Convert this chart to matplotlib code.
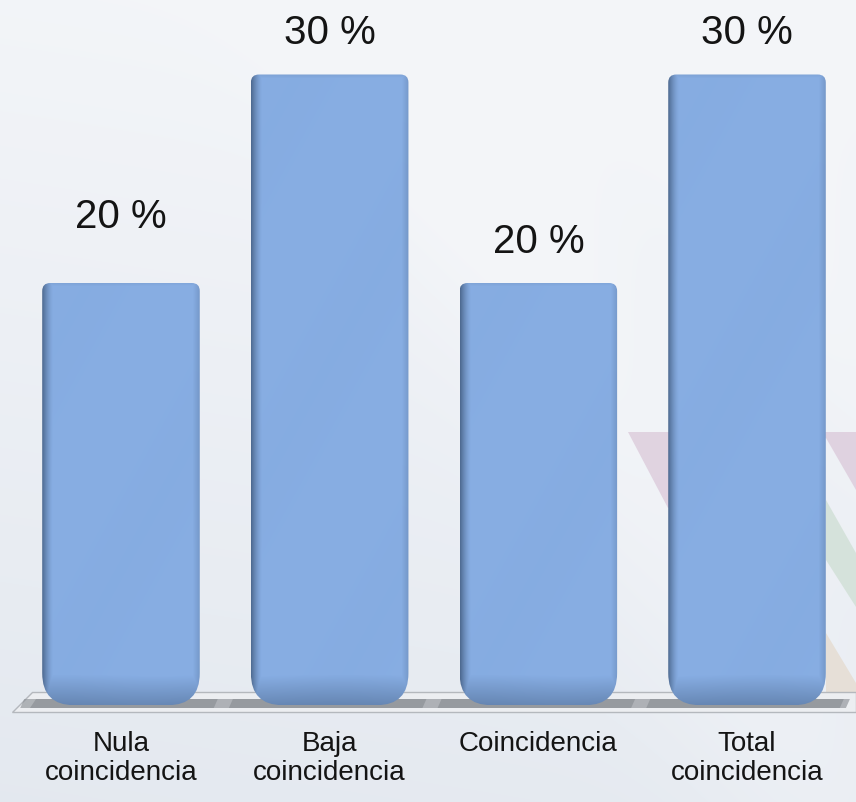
import numpy as np
import matplotlib
matplotlib.use("Agg")
import matplotlib.pyplot as plt
from matplotlib.path import Path
from matplotlib.patches import PathPatch, Polygon

categories = ["Nula\ncoincidencia", "Baja\ncoincidencia", "Coincidencia", "Total\ncoincidencia"]
values = [20, 30, 20, 30]
value_labels = ["20 %", "30 %", "20 %", "30 %"]

W, H = 856, 802
fig = plt.figure(figsize=(W / 100, H / 100), dpi=100)

# background: light gradient with soft diagonal streaks (pixel coords, y down)
bg = fig.add_axes([0, 0, 1, 1], zorder=0)
yy, xx = np.mgrid[0:H, 0:W].astype(float)
light = np.array([0.955, 0.962, 0.975])
grey = np.array([0.890, 0.910, 0.938])
t = np.clip(yy / H * 0.9 + (1 - xx / W) * 0.15 - 0.1, 0, 1)
d = (xx - yy * 0.55)
streak = 0.5 * np.exp(-((d - 380) / 120) ** 2) + 0.35 * np.exp(-((d - 650) / 90) ** 2)
t = np.clip(t - streak * 0.6, 0, 1)
img = light[None, None, :] * (1 - t[..., None]) + grey[None, None, :] * t[..., None]
bg.imshow(img, extent=(0, W, H, 0), aspect="auto")
# faint coloured ribbons behind the right bars
bg.add_patch(Polygon([(628, 432), (856, 432), (856, 490), (826, 438), (668, 508)],
                     closed=True, color="#dccbdb", alpha=0.8, lw=0))
bg.add_patch(Polygon([(826, 500), (856, 553), (856, 607), (826, 560)],
                     closed=True, color="#d3e1d9", alpha=0.9, lw=0))
bg.add_patch(Polygon([(826, 633), (856, 683), (856, 700), (826, 700)],
                     closed=True, color="#e6ded4", alpha=0.9, lw=0))
bg.set_xlim(0, W)
bg.set_ylim(H, 0)
bg.axis("off")

ax = fig.add_axes([0, 0, 1, 1], zorder=1)
ax.patch.set_alpha(0)
x = np.arange(len(categories))
px_x = 208.7
px_y = 20.85
ax.set_xlim(-121 / px_x, 3 + (W - 747) / px_x)
ax.set_ylim(-(H - 700) / px_y, 700 / px_y)
ax.axis("off")

bars = ax.bar(x, values, width=0.755, alpha=0)


def py(p):
    # pixel row -> data y
    return (700 - p) / px_y


def pxx(p):
    return ax.get_xlim()[0] + p / px_x


# floor plate
ax.add_patch(Polygon([(pxx(32), py(692)), (pxx(856), py(692)), (pxx(856), py(712)), (pxx(12), py(712))],
                     closed=True, facecolor="#eceef1", edgecolor="#b4b8bd", lw=1, zorder=2))
ax.add_patch(Polygon([(pxx(36), py(699)), (pxx(850), py(699)), (pxx(846), py(708)), (pxx(30), py(708))],
                     closed=True, facecolor="#a3a7ac", edgecolor="none", alpha=0.85, zorder=2))
# bar shadows on the floor
for b in bars:
    sx0 = b.get_x() - 18 / px_x
    sx1 = b.get_x() + b.get_width() + 18 / px_x
    ax.add_patch(Polygon([(sx0, py(699)), (sx1, py(699)), (sx1 - 4 / px_x, py(708)), (sx0 - 4 / px_x, py(708))],
                         closed=True, facecolor="#868b90", edgecolor="none", alpha=0.6, zorder=2))


def bar_path(x0, x1, y0, y1, rb, rt):
    rbx, rby = rb / px_x, rb / px_y
    rtx, rty = rt / px_x, rt / px_y
    verts = [(x0 + rbx, y0), (x1 - rbx, y0), (x1, y0), (x1, y0 + rby),
             (x1, y1 - rty), (x1, y1), (x1 - rtx, y1),
             (x0 + rtx, y1), (x0, y1), (x0, y1 - rty),
             (x0, y0 + rby), (x0, y0), (x0 + rbx, y0), (x0 + rbx, y0)]
    codes = [Path.MOVETO, Path.LINETO, Path.CURVE3, Path.CURVE3,
             Path.LINETO, Path.CURVE3, Path.CURVE3,
             Path.LINETO, Path.CURVE3, Path.CURVE3,
             Path.LINETO, Path.CURVE3, Path.CURVE3, Path.CLOSEPOLY]
    return Path(verts, codes)


main = np.array([0.53, 0.68, 0.89])
dark = np.array([0.30, 0.41, 0.56])
for b in bars:
    x0, y0 = b.get_x(), b.get_y() - 0.25
    x1, y1 = x0 + b.get_width(), b.get_height()
    path = bar_path(x0, x1, y0, y1, 32, 8)
    wpx = int(b.get_width() * px_x)
    hpx = int((y1 - y0) * px_y)
    u = np.arange(wpx)[None, :].astype(float)
    v = np.arange(hpx)[:, None].astype(float)
    t = np.zeros((hpx, wpx))
    t = np.maximum(t, np.clip(1 - u / 11.0, 0, 1) ** 1.5 * 0.95)
    t = np.maximum(t, np.clip(1 - (wpx - 1 - u) / 7.0, 0, 1) * 0.3)
    t = np.maximum(t, np.clip(1 - (hpx - 1 - v) / 30.0, 0, 1) * 0.55)
    t = np.maximum(t, np.clip(1 - v / 4.0, 0, 1) * 0.15)
    # faint diagonal sheen
    t = np.clip(t + 0.02 * np.sin((u + v * 0.55) / 30.0), 0, 1)
    rgb = main[None, None, :] * (1 - t[..., None]) + dark[None, None, :] * t[..., None]
    im = ax.imshow(rgb, extent=(x0, x1, y0, y1), aspect="auto", origin="upper", zorder=3)
    pp = PathPatch(path, facecolor="none", edgecolor="none", zorder=3)
    ax.add_patch(pp)
    im.set_clip_path(pp)

offsets = [3.15, 2.0, 1.95, 2.0]
for xi, v, lab, off in zip(x, values, value_labels, offsets):
    ax.text(xi, v + off, lab, ha="center", va="center", fontsize=29,
            family=["Liberation Sans Narrow", "Liberation Sans", "DejaVu Sans"],
            color="#141414", zorder=4)

for xi, c in zip(x, categories):
    ax.text(xi, py(731), c, ha="center", va="top", fontsize=20, linespacing=1.15,
            family=["Liberation Sans Narrow", "Liberation Sans", "DejaVu Sans"],
            color="#141414", zorder=4)

fig.savefig("out.png", dpi=100)
